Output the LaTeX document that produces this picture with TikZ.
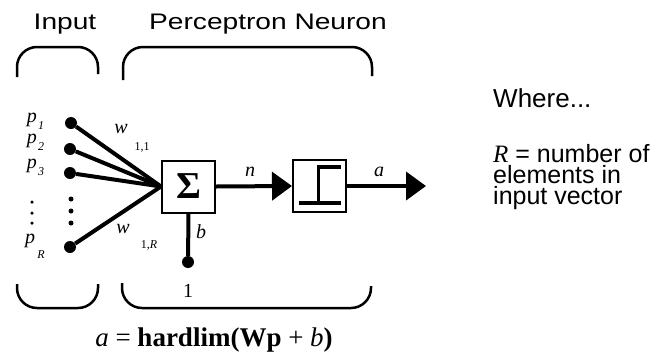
\documentclass[tikz,border=0pt]{standalone}
\usepackage{fontspec}
\usepackage{graphicx}
\setmainfont{Liberation Sans}
\newfontfamily\serif{Liberation Serif}
\newcommand\widetxt[1]{\scalebox{1.25}[1]{#1}}
\usetikzlibrary{arrows.meta}
\begin{document}
\begin{tikzpicture}[x=1pt,y=-1pt,
  lbl/.style={font=\fontsize{22.5}{22.5}\selectfont, inner sep=0},
  var/.style={font=\serif\itshape\fontsize{20}{20}\selectfont, inner sep=0},
  sub/.style={font=\serif\itshape\fontsize{12}{12}\selectfont, inner sep=0},
  wsub/.style={font=\serif\fontsize{12}{12}\selectfont, inner sep=0},
  brace/.style={line width=2.5pt, rounded corners=20pt},
  wire/.style={line width=4pt},
  arr/.style={line width=4pt, -{Triangle[length=20pt,width=28pt]}},
  dot/.style={circle, fill, inner sep=0, minimum size=12pt},
  sdot/.style={circle, fill, inner sep=0, minimum size=5pt},
  blk/.style={draw, line width=2pt, minimum width=53pt, minimum height=52pt, inner sep=0}]
\useasboundingbox (0,0) rectangle (672,354);

% titles
\node[lbl, anchor=base] (tin) at (65,29) {\widetxt{Input}};
\node[lbl, anchor=base] (tpn) at (268,29) {\widetxt{Perceptron Neuron}};

% braces
\draw[brace] (17,77) -- (17,47) -- (98,47) -- (98,74);
\draw[brace] (123,80) -- (123,47) -- (372,47) -- (372,76);
\draw[brace] (17,284) -- (17,308) -- (98,308) -- (98,284);
\draw[brace] (122,283) -- (122,308) -- (371,308) -- (371,286);

% inputs
\node[dot] (i1) at (71,123) {};
\node[dot] (i2) at (70,149) {};
\node[dot] (i3) at (70,173) {};
\node[dot] (iR) at (70,247) {};
\node[sdot] (v1) at (71,199) {};
\node[sdot] (v2) at (71,211) {};
\node[sdot] (v3) at (71,223) {};

% input labels
\node[var] (p1) at (32,120) {p};
\node[sub] (p1s) at (41,126) {1};
\node[var] (p2) at (32,141) {p};
\node[sub] (p2s) at (41,147) {2};
\node[var] (p3) at (32,166) {p};
\node[sub] (p3s) at (41,172) {3};
\node[sdot, minimum size=3.5pt] (u1) at (32,202) {};
\node[sdot, minimum size=3.5pt] (u2) at (32,213) {};
\node[sdot, minimum size=3.5pt] (u3) at (32,223) {};
\node[var] (pR) at (30,241) {p};
\node[sub] (pRs) at (41,255) {R};

% summation block
\node[blk, font=\serif\bfseries\fontsize{38}{38}\selectfont] (sum) at (188.5,186.5) {Σ};
\draw[wire] (i1) -- (sum.west);
\draw[wire] (i2) -- (sum.west);
\draw[wire] (i3) -- (sum.west);
\draw[wire] (iR) -- (sum.west);

% weights
\node[var] (w1) at (121,129) {w};
\node[wsub] (w1s) at (142,147) {1,1};
\node[var] (wR) at (123,229) {w};
\node[wsub] (wRs) at (149,245) {1,\textit{R}};

% bias
\node[dot] (bd) at (188,262) {};
\draw[wire] (sum.south) -- (bd);
\node[var] (b) at (201,232) {b};
\node[font=\serif\fontsize{20}{20}\selectfont, inner sep=0] (one) at (188,291) {1};

% hardlim block
\node[blk] (hl) at (319.5,186) {};
\draw[line width=3.5pt] ([shift={(-21,17)}]hl.center) -- ([shift={(21,17)}]hl.center);
\draw[line width=3.5pt] ([shift={(-1,17)}]hl.center) -- ([shift={(-1,-19)}]hl.center) -- ([shift={(21,-19)}]hl.center);

% arrows
\draw[arr] (sum.east) -- (hl.west);
\coordinate (out) at (426,186);
\draw[arr] (hl.east) -- (out);
\node[var] (n) at (250,172) {n};
\node[var] (a) at (379,172) {a};

% right text
\node[font=\fontsize{26}{26}\selectfont, inner sep=0, anchor=base west] (wh) at (493,107) {Where...};
\node[font=\fontsize{25}{21}\selectfont, inner sep=0, anchor=base west, align=left] (rdef) at (493,204)
  {{\serif\itshape R} = number of\\elements in\\input vector};

% formula
\node[font=\serif\fontsize{27}{27}\selectfont, inner sep=0, anchor=base] (eq) at (214,346)
  {\textit{a} = \textbf{hardlim(Wp} + \textit{b}\textbf{)}};
\end{tikzpicture}
\end{document}
